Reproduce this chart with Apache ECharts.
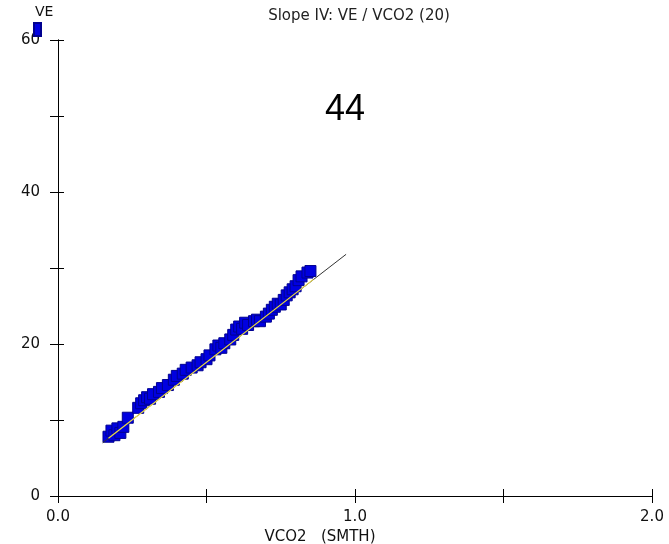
<!DOCTYPE html>
<html>
<head>
<meta charset="utf-8">
<script src="https://cdn.jsdelivr.net/npm/echarts@6/dist/echarts.min.js"></script>
<style>
  html, body { margin: 0; padding: 0; background: #fff; }
  #chart { width: 669px; height: 544px; }
</style>
</head>
<body>
<div id="chart"></div>
<script>
// 数据 VCO2 (SMTH) / VE
var vco2 = [0.17,0.18,0.19,0.20,0.21,0.22,0.235,0.27,0.28,0.29,0.30,0.31,0.32,0.34,0.35,0.37,0.39,0.40,0.42,0.43,
            0.45,0.47,0.48,0.50,0.51,0.53,0.54,0.55,0.56,0.58,0.59,0.60,0.61,0.62,0.63,0.64,0.66,0.67,0.68,0.70,
            0.71,0.72,0.73,0.74,0.75,0.76,0.77,0.78,0.79,0.80,0.81,0.82,0.84,0.85];
var ve   = [7.8,8.6,8.0,8.9,8.3,9.1,10.3,11.6,12.2,12.6,13.0,12.8,13.4,13.7,14.2,14.6,15.3,15.8,16.1,16.6,
            16.9,17.2,17.6,18.0,18.5,19.3,19.8,19.5,20.1,20.6,21.2,21.9,22.3,22.0,22.8,22.5,23.0,23.2,23.0,23.6,
            24.0,24.5,24.9,25.3,25.2,25.8,26.4,26.8,27.2,27.6,28.4,28.9,29.4,29.6];
// 回归线
var fitX = [0.15, 0.97];
var fitY = [7.0, 31.8];
var fitInnerX = [0.17, 0.86];
var fitInnerY = [7.6, 28.5];
var slopeText = '44';
var chartTitle = 'Slope IV: VE / VCO2 (20)';

var pts = vco2.map(function (x, i) { return [x, ve[i]]; });
var fitLine = fitX.map(function (x, i) { return [x, fitY[i]]; });
var fitInner = fitInnerX.map(function (x, i) { return [x, fitInnerY[i]]; });

var FONT = '"DejaVu Sans", Arial, sans-serif';
var myChart = echarts.init(document.getElementById('chart'));

var tickFmtX = function (v) {
    return (Math.abs(v - Math.round(v)) < 1e-9) ? v.toFixed(1) : '';
};
var tickFmtY = function (v) {
    return v % 20 === 0 ? String(v) : '';
};
var gridBox = { left: 58, right: 17, top: 40, bottom: 48, outerBoundsMode: 'none' };

myChart.setOption({
    animation: false,
    backgroundColor: '#fff',
    title: {
        text: chartTitle,
        left: 354, top: 4, textAlign: 'center',
        textStyle: { fontFamily: FONT, fontSize: 15, fontWeight: 'normal', color: '#222' }
    },
    legend: {
        left: 28, top: 17,
        itemWidth: 7, itemHeight: 13, icon: 'rect',
        formatter: function () { return ''; },
        data: ['VE'],
        selectedMode: false
    },
    // 第二个 grid 只用来画向内的刻度（十字刻度）
    grid: [
        Object.assign({}, gridBox),
        Object.assign({}, gridBox)
    ],
    xAxis: [
        {
            type: 'value', gridIndex: 0, min: 0, max: 2, interval: 0.5,
            name: 'VCO2   (SMTH)', nameLocation: 'middle', nameGap: 29,
            nameTextStyle: { fontFamily: FONT, fontSize: 15, color: '#111', padding: [0, 70, 0, 0] },
            axisLine: { lineStyle: { color: '#000', width: 1 } },
            axisTick: { length: 7, lineStyle: { color: '#000' } },
            axisLabel: { formatter: tickFmtX, fontFamily: FONT, fontSize: 15, color: '#111', margin: 14 },
            splitLine: { show: false }
        },
        {
            type: 'value', gridIndex: 1, min: 0, max: 2, interval: 0.5, position: 'bottom',
            axisLine: { show: true, lineStyle: { color: '#000', width: 1 } },
            axisTick: { show: true, inside: true, length: 7, lineStyle: { color: '#000' } },
            axisLabel: { show: false },
            splitLine: { show: false }
        }
    ],
    yAxis: [
        {
            type: 'value', gridIndex: 0, min: 0, max: 60, interval: 10,
            axisLine: { show: true, lineStyle: { color: '#000', width: 1 } },
            axisTick: { show: true, length: 8, lineStyle: { color: '#000' } },
            axisLabel: { formatter: tickFmtY, fontFamily: FONT, fontSize: 15, color: '#111', margin: 18 },
            splitLine: { show: false }
        },
        {
            type: 'value', gridIndex: 1, min: 0, max: 60, interval: 10, position: 'left',
            axisLine: { show: true, lineStyle: { color: '#000', width: 1 } },
            axisTick: { show: true, inside: true, length: 6, lineStyle: { color: '#000' } },
            axisLabel: { show: false },
            splitLine: { show: false }
        }
    ],
    graphic: [
        { type: 'text', left: 325, top: 92,
          style: { text: slopeText, font: '36px "Liberation Sans", Arial, sans-serif', fill: '#000' } },
        { type: 'text', left: 35, top: 5,
          style: { text: 'VE', font: '14px ' + FONT, fill: '#111' } }
    ],
    series: [
        {
            name: 'VE', type: 'scatter', xAxisIndex: 0, yAxisIndex: 0,
            symbol: 'rect', symbolSize: 11,
            itemStyle: { color: '#0000e0', borderColor: '#000090', borderWidth: 1, opacity: 1 },
            data: pts, z: 3
        },
        {
            type: 'line', xAxisIndex: 0, yAxisIndex: 0,
            data: fitLine, symbol: 'none', silent: true,
            lineStyle: { color: '#333', width: 1 }, z: 4
        },
        {
            type: 'line', xAxisIndex: 0, yAxisIndex: 0,
            data: fitInner, symbol: 'none', silent: true,
            lineStyle: { color: '#e8d850', width: 1.2 }, z: 5
        },
        {
            type: 'scatter', xAxisIndex: 1, yAxisIndex: 1, data: [], silent: true
        }
    ]
});
window.onresize = function () {
    myChart.resize();
};
</script>
</body>
</html>
